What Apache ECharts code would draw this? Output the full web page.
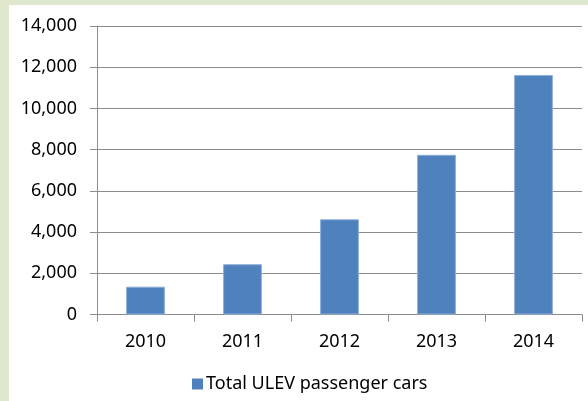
<!DOCTYPE html>
<html>
<head>
<meta charset="utf-8">
<script src="https://cdn.jsdelivr.net/npm/echarts@6/dist/echarts.min.js"></script>
<style>
html,body{margin:0;padding:0;}
#c{width:588px;height:401px;}
</style>
</head>
<body>
<div id="c"></div>
<script>
const categories = ['2010', '2011', '2012', '2013', '2014'];
const seriesName = 'Total ULEV passenger cars';
const values = [1350, 2440, 4620, 7750, 11620];

const chart = echarts.init(document.getElementById('c'), null, {renderer: 'canvas'});
const font = '"Noto Sans", "Open Sans", sans-serif';
chart.setOption({
  backgroundColor: '#dfe8cd',
  animation: false,
  textStyle: {fontFamily: font},
  graphic: [{
    type: 'rect', left: 9, top: 5, z: -10,
    shape: {width: 579, height: 396},
    style: {fill: '#ffffff'}
  }],
  grid: {left: 97, right: 6, top: 26, bottom: 86.5},
  legend: {
    data: [seriesName],
    left: 187, top: 370,
    icon: 'rect', itemWidth: 11, itemHeight: 11, itemGap: 5,
    itemStyle: {borderWidth: 0},
    textStyle: {fontSize: 18, color: '#000', fontFamily: font, padding: [0, 0, 0, -2]}
  },
  xAxis: {
    type: 'category',
    data: categories,
    axisLine: {lineStyle: {color: '#8c8c8c', width: 1}},
    axisTick: {show: true, length: 7, alignWithLabel: false, lineStyle: {color: '#8c8c8c'}},
    axisLabel: {fontSize: 18, color: '#000', margin: 18, fontFamily: font},
    splitLine: {show: false}
  },
  yAxis: {
    type: 'value',
    min: 0, max: 14000, interval: 2000,
    axisLine: {show: true, lineStyle: {color: '#8c8c8c', width: 1}},
    axisTick: {show: true, length: 7, lineStyle: {color: '#8c8c8c'}},
    axisLabel: {
      fontSize: 18, color: '#000', margin: 20, fontFamily: font,
      formatter: v => v.toLocaleString('en-US')
    },
    splitLine: {show: true, lineStyle: {color: '#8c8c8c', width: 1}}
  },
  series: [{
    name: seriesName,
    type: 'bar',
    data: values,
    barWidth: '40%',
    itemStyle: {color: '#4f81bd', borderColor: '#8eaedb', borderWidth: 1}
  }]
});
</script>
</body>
</html>
